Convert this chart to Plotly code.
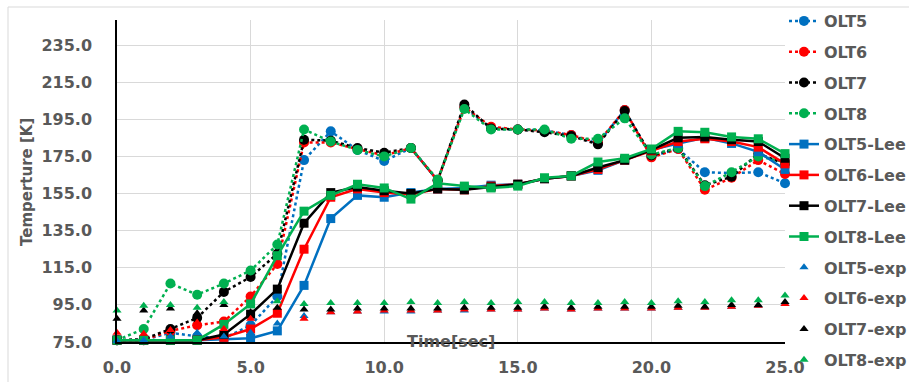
import plotly.graph_objects as go

t = list(range(26))

olt5 = [76, 76, 80, 78, 77, 84, 99.5, 173, 188.5, 178.5, 172.5, 179.5, 162, 201.5, 190, 189.5, 189, 186.5, 182, 200, 175, 179, 166.5, 166, 166.5, 160.5]
olt6 = [76, 76, 81, 84, 86, 99.5, 117, 182.5, 182.5, 179, 175.5, 179.5, 162, 201.5, 191, 189.5, 189, 186.5, 182.5, 200, 174.5, 179, 157, 163.5, 173, 165.5]
olt7 = [76, 76.5, 82, 88, 102, 110, 122.5, 184, 183.5, 179.5, 177, 179.5, 162, 203, 190, 189.5, 188, 186, 181.5, 199.5, 175.5, 179.5, 159.5, 164, 176.5, 171]
olt8 = [76, 82, 106.5, 100.5, 106.5, 113.5, 127.5, 189.5, 183, 178.5, 175, 179.5, 162.5, 200.5, 189.5, 189.5, 189.5, 184.5, 184.5, 195.5, 176, 179.5, 159, 166.5, 175, 172]

lee5 = [76, 76, 76, 76, 76.5, 77, 81, 105.5, 141.5, 154, 153, 155.5, 157.5, 158, 159.5, 160, 163, 164.5, 167.5, 173, 178.5, 182, 185, 182, 177.5, 168]
lee6 = [76, 76, 76, 76, 77.5, 82, 90.5, 125, 153, 157.5, 155.5, 154.5, 157.5, 157, 159, 160, 163, 164.5, 168, 173, 178, 183, 184.5, 183, 180, 171]
lee7 = [76, 76, 76, 76, 79, 90, 103.5, 139, 155.5, 158.5, 156.5, 155, 157.5, 157, 158.5, 160, 163, 164.5, 169, 173, 178.5, 185, 185.5, 184, 183, 174]
lee8 = [76, 76, 76, 76, 84.5, 95.5, 121.5, 145.5, 154, 160, 158, 152, 160.5, 159, 158, 159, 163.5, 164.5, 172, 174, 179, 188.5, 188, 185.5, 184.5, 176.5]

exp5 = [75.5, 76, 78, 80, 78, 80, 85, 89, 91, 91.5, 91.5, 91.5, 92, 92, 92.5, 92.5, 93, 92.5, 93, 93, 93, 93.5, 93.5, 94, 94.5, 95.5]
exp6 = [80, 79.5, 81.5, 85.5, 82, 87.5, 91, 87.5, 91, 91.5, 92, 92, 92, 92.5, 92.5, 92.5, 93, 92.5, 93, 93, 93, 93.5, 93.5, 94, 94.5, 95.5]
exp7 = [87.5, 92, 93, 90.5, 95, 91, 93.5, 92.5, 92.5, 93, 93, 93, 93, 93.5, 93.5, 93.5, 94, 93.5, 94, 94, 94, 94.5, 94, 95, 95, 96.5]
exp8 = [92, 94.5, 95, 93.5, 96.5, 95, 97, 95.5, 96, 96, 96, 96.5, 96, 96.5, 96, 96.5, 96.5, 96, 96, 96.5, 96, 97, 96.5, 97.5, 97.5, 100]

x_ticks = [0, 5, 10, 15, 20, 25]
x_labels = ["0.0", "5.0", "10.0", "15.0", "20.0", "25.0"]
y_ticks = [75, 95, 115, 135, 155, 175, 195, 215, 235]
y_labels = ["75.0", "95.0", "115.0", "135.0", "155.0", "175.0", "195.0", "215.0", "235.0"]

names = ["OLT5", "OLT6", "OLT7", "OLT8"]
colors = ["#0070C0", "#FF0000", "#000000", "#00B050"]

fig = go.Figure()
for n, c, y in zip(names, colors, [olt5, olt6, olt7, olt8]):
    fig.add_trace(go.Scatter(x=t, y=y, name=n, mode="lines+markers",
                             line=dict(color=c, width=2.5, dash="dot"),
                             marker=dict(symbol="circle", size=10, color=c),
                             legendgroup=n, cliponaxis=False))
for n, c, y in zip(names, colors, [lee5, lee6, lee7, lee8]):
    fig.add_trace(go.Scatter(x=t, y=y, name=n + "-Lee", mode="lines+markers",
                             line=dict(color=c, width=2.5),
                             marker=dict(symbol="square", size=9, color=c),
                             legendgroup=n + "-Lee", cliponaxis=False))
for n, c, y in zip(names, colors, [exp5, exp6, exp7, exp8]):
    fig.add_trace(go.Scatter(x=t, y=y, name=n + "-exp", mode="markers",
                             marker=dict(symbol="triangle-up", size=8, color=c),
                             legendgroup=n + "-exp", cliponaxis=False))

fnt = dict(family="DejaVu Sans", size=16, color="#595959", weight="bold")
tfnt = dict(family="DejaVu Sans", size=15, color="#595959", weight="bold")
L, R, T, B = 117, 124, 20, 40
W, H = 909, 382
pw, ph = W - L - R, H - T - B

fig.update_layout(
    width=W, height=H,
    margin=dict(l=L, r=R, t=T, b=B, pad=0, autoexpand=False),
    plot_bgcolor="white", paper_bgcolor="white",
    showlegend=True,
    legend=dict(x=(784 - L) / pw, y=1 - 4 / H, yref="container", xanchor="left", yanchor="top",
                font=fnt, tracegroupgap=7, itemwidth=30, bgcolor="rgba(0,0,0,0)", maxheight=H),
    xaxis=dict(range=[0, 25], tickvals=x_ticks, ticktext=x_labels, automargin=False,
               showgrid=True, gridcolor="#D9D9D9", gridwidth=1, zeroline=False,
               showline=True, linecolor="#000000", linewidth=2, ticks="", tickfont=fnt, ticklabelstandoff=10),
    yaxis=dict(range=[75, 248.5], tickvals=y_ticks, ticktext=y_labels, automargin=False,
               showgrid=True, gridcolor="#D9D9D9", gridwidth=1, zeroline=False,
               showline=True, linecolor="#000000", linewidth=1.5, ticks="", tickfont=fnt, ticklabelstandoff=20),
    annotations=[dict(text="Time[sec]", x=(451 - L) / pw, y=(H - B - 341) / ph, xref="paper", yref="paper",
                      showarrow=False, font=fnt, xanchor="center", yanchor="middle"),
                 dict(text="Temperture [K]", x=(27 - L) / pw, y=(H - B - 182) / ph, xref="paper", yref="paper",
                      showarrow=False, font=tfnt, textangle=-90, xanchor="center", yanchor="middle")],
    shapes=[dict(type="line", xref="paper", yref="paper", x0=(8 - L) / pw, x1=(W - L) / pw,
                 y0=(H - B - 7) / ph, y1=(H - B - 7) / ph, line=dict(color="#D9D9D9", width=1)),
            dict(type="line", xref="paper", yref="paper", x0=(8 - L) / pw, x1=(8 - L) / pw,
                 y0=(H - B - 7) / ph, y1=(H - B - H) / ph, line=dict(color="#D9D9D9", width=1))],
)

fig.write_html("out.html")
